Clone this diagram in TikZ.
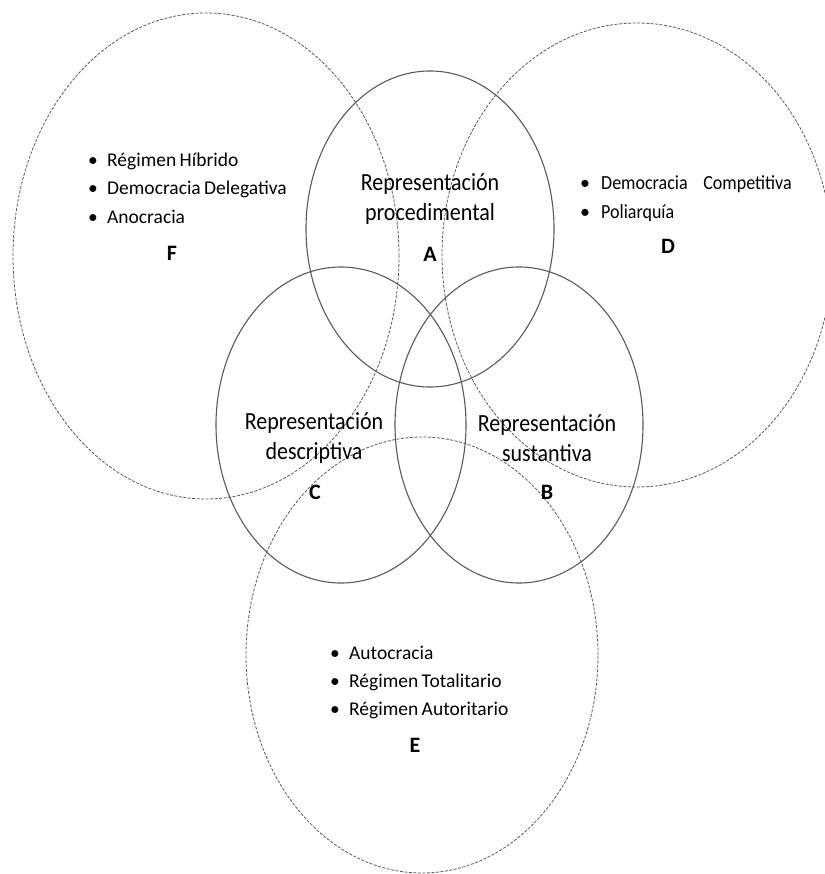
\documentclass[tikz,border=0pt]{standalone}
\usepackage{graphicx}
\usepackage{fontspec}
\setmainfont{Carlito}
\definecolor{linegray}{HTML}{595959}
% text that is set a little taller than wide
\newcommand{\tallrow}[1]{\scalebox{1}[1.12]{#1}}
\newcommand{\narrowrow}[1]{\scalebox{0.9}[1]{#1}}
\begin{document}
\begin{tikzpicture}[x=1pt,y=-1pt,
  regime/.style={draw=linegray, line width=0.8pt, dash pattern=on 3pt off 1.5pt},
  repr/.style={draw=linegray, line width=1.1pt},
  reprlabel/.style={font=\fontsize{22}{30}\selectfont, align=center, inner sep=0pt},
  setletter/.style={font=\fontsize{22}{24}\selectfont\bfseries, inner sep=0pt},
  listitem/.style={font=\fontsize{19.5}{24}\selectfont, anchor=base west, inner sep=0pt},
  smallitem/.style={font=\fontsize{20}{24}\selectfont, anchor=base west, inner sep=0pt}]
\useasboundingbox (0,0) rectangle (824,874);

% regime sets (dashed)
\draw[regime] (206,256) ellipse [x radius=193pt, y radius=243pt]; % F
\draw[regime] (637,255) ellipse [x radius=195pt, y radius=232pt]; % D
\draw[regime] (422,655) ellipse [x radius=176pt, y radius=218pt]; % E

% representation sets (solid)
\draw[repr] (430,229) ellipse [x radius=124pt, y radius=158pt]; % A
\draw[repr] (341,425) ellipse [x radius=125pt, y radius=158pt]; % C
\draw[repr] (519,425) ellipse [x radius=124pt, y radius=158pt]; % B

% representation labels
\node[reprlabel] (lA) at (430,199) {\tallrow{Representación}\\\tallrow{procedimental}};
\node[reprlabel] (lC) at (314,438) {\tallrow{Representación}\\\tallrow{descriptiva}};
\node[reprlabel] (lB) at (547,438) {\tallrow{Representación}\\\tallrow{sustantiva}};

\node[setletter] (A) at (430,254) {A};
\node[setletter] (C) at (315,492) {C};
\node[setletter] (B) at (547,492) {B};

% F: list
\node[listitem] (f1) at (88,167) {\makebox[19pt][l]{•}Régimen\hspace{-1pt} Híbrido};
\node[listitem] (f2) at (88,195) {\makebox[19pt][l]{•}Democracia\hspace{-1pt} Delegativa};
\node[listitem] (f3) at (88,224) {\makebox[19pt][l]{•}Anocracia};
\node[setletter] (F) at (172,253) {F};

% D: list
\node[smallitem] (d1) at (580,190) {\makebox[21pt][l]{•}\narrowrow{Democracia\hspace{13pt} Competitiva}};
\node[smallitem] (d2) at (580,219) {\makebox[21pt][l]{•}\narrowrow{Poliarquía}};
\node[setletter] (D) at (668,246) {D};

% E: list
\node[listitem] (e1) at (330,659) {\makebox[19pt][l]{•}Autocracia};
\node[listitem] (e2) at (330,687) {\makebox[19pt][l]{•}Régimen\hspace{-1pt} Totalitario};
\node[listitem] (e3) at (330,715) {\makebox[19pt][l]{•}Régimen\hspace{-1pt} Autoritario};
\node[setletter] (E) at (415,745) {E};
\end{tikzpicture}
\end{document}
